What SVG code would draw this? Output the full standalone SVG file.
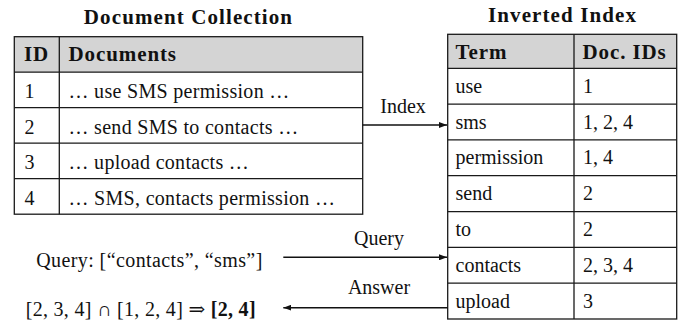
<svg xmlns="http://www.w3.org/2000/svg" width="683" height="323" viewBox="0 0 683 323">
  <style>
    text { font-family: "Liberation Serif", "DejaVu Serif", serif; fill: #111; }
    .title { font-size: 21px; font-weight: bold; letter-spacing: 1.1px; text-anchor: middle; }
    .head { font-size: 21px; font-weight: bold; letter-spacing: 0.9px; }
    .cell { font-size: 20px; }
    .lbl { font-size: 20px; text-anchor: middle; }
    .grid { fill: none; stroke: #1a1a1a; stroke-width: 1.3; }
    .hdr { fill: #d4d4d4; }
    .conn { fill: none; stroke: #111; stroke-width: 1.5; marker-end: url(#arrow); }
  </style>
  <defs>
    <marker id="arrow" viewBox="0 0 8 6" refX="8" refY="3" markerWidth="8" markerHeight="6" markerUnits="userSpaceOnUse" orient="auto">
      <path d="M0,0 L8,3 L0,6 z" fill="#111"/>
    </marker>
  </defs>

  <!-- Document collection table -->
  <g id="document-collection">
    <text class="title" x="188.5" y="24">Document Collection</text>
    <rect class="hdr" x="14.3" y="36.7" width="348.4" height="35.5"/>
    <rect class="grid" x="14.3" y="36.7" width="348.4" height="177.5"/>
    <path class="grid" d="M59.3,36.7 V214.2 M14.3,72.2 H362.7 M14.3,107.7 H362.7 M14.3,143.2 H362.7 M14.3,178.7 H362.7"/>
    <text class="head" x="24" y="61">ID</text>
    <text class="head" x="68.5" y="61">Documents</text>
    <text class="cell" x="24.5" y="98.2">1</text>
    <text class="cell" x="68.5" y="98.2" style="letter-spacing:0.3px">… use SMS permission …</text>
    <text class="cell" x="24.5" y="133.7">2</text>
    <text class="cell" x="68.5" y="133.7" style="letter-spacing:0.3px">… send SMS to contacts …</text>
    <text class="cell" x="24.5" y="169.2">3</text>
    <text class="cell" x="68.5" y="169.2" style="letter-spacing:0.3px">… upload contacts …</text>
    <text class="cell" x="24.5" y="204.7">4</text>
    <text class="cell" x="68.5" y="204.7" style="letter-spacing:0.3px">… SMS, contacts permission …</text>
  </g>

  <!-- Inverted index table -->
  <g id="inverted-index">
    <text class="title" x="562.5" y="22">Inverted Index</text>
    <rect class="hdr" x="447.7" y="34.3" width="229" height="34"/>
    <rect class="grid" x="447.7" y="34.3" width="229" height="284.7"/>
    <path class="grid" d="M574,34.3 V319 M447.7,68.3 H676.7 M447.7,104.1 H676.7 M447.7,139.9 H676.7 M447.7,175.7 H676.7 M447.7,211.6 H676.7 M447.7,247.4 H676.7 M447.7,283.2 H676.7"/>
    <text class="head" x="455.5" y="58.5">Term</text>
    <text class="head" x="582.5" y="58.5">Doc. IDs</text>
    <text class="cell" x="455.5" y="92.7">use</text>
    <text class="cell" x="583" y="92.7">1</text>
    <text class="cell" x="455.5" y="128.5">sms</text>
    <text class="cell" x="583" y="128.5">1, 2, 4</text>
    <text class="cell" x="455.5" y="164.3">permission</text>
    <text class="cell" x="583" y="164.3">1, 4</text>
    <text class="cell" x="455.5" y="200.1">send</text>
    <text class="cell" x="583" y="200.1">2</text>
    <text class="cell" x="455.5" y="236">to</text>
    <text class="cell" x="583" y="236">2</text>
    <text class="cell" x="455.5" y="271.8">contacts</text>
    <text class="cell" x="583" y="271.8">2, 3, 4</text>
    <text class="cell" x="455.5" y="307.6">upload</text>
    <text class="cell" x="583" y="307.6">3</text>
  </g>

  <!-- Query and answer -->
  <g id="query">
    <text class="lbl" x="149.5" y="266.5" style="letter-spacing:0.4px">Query: [“contacts”, “sms”]</text>
  </g>
  <g id="answer">
    <text class="lbl" x="140.8" y="316" style="letter-spacing:0.3px">[2, 3, 4] ∩ [1, 2, 4] ⇒ <tspan font-weight="bold">[2, 4]</tspan></text>
  </g>

  <!-- Connectors -->
  <g id="connectors">
    <path class="conn" d="M362.7,125 H447"/>
    <text class="lbl" x="403" y="112.7">Index</text>
    <path class="conn" d="M283.3,257.3 H447"/>
    <text class="lbl" x="379" y="245">Query</text>
    <path class="conn" d="M447.7,307.7 H283.3"/>
    <text class="lbl" x="379" y="294">Answer</text>
  </g>
</svg>
